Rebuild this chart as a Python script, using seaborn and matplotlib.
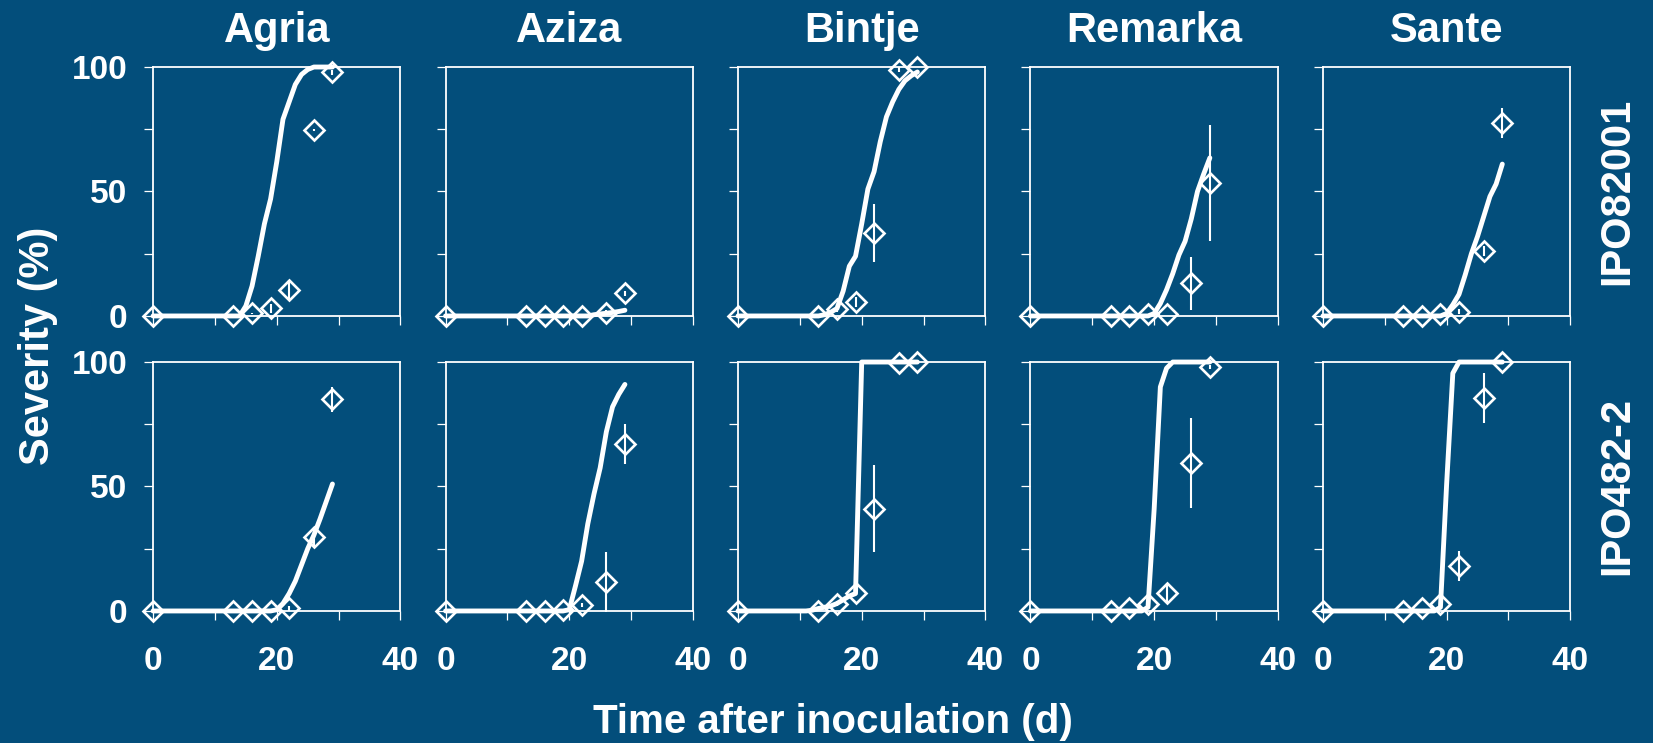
import matplotlib
matplotlib.use("Agg")
import matplotlib.pyplot as plt
import pandas as pd
import seaborn as sns


BG = "#034e7b"
FG = "white"

CULTIVARS = ["Agria", "Aziza", "Bintje", "Remarka", "Sante"]
ISOLATES = ["IPO82001", "IPO482-2"]

# observation days and daily time axis for the fitted curves
DAYS_OBS = [0, 13, 16, 19, 22, 26, 29]
DAYS_FIT = list(range(30))

# observed severity (%) and error, isolate IPO82001
OBS_82001 = {
    "Agria": [0, 0, 1, 3, 10.3, 74.7, 97.9],
    "Aziza": [0, 0, 0, 0, 0, 1.3, 9.1],
    "Bintje": [0, 0, 2.7, 5.7, 33.4, 99, 100],
    "Remarka": [0, 0, 0, 0.7, 0.7, 13.1, 53.5],
    "Sante": [0, 0, 0, 0.7, 1.7, 26, 77.5],
}
ERR_82001 = {
    "Agria": [0, 0, 0.3, 2, 4, 0.5, 1],
    "Aziza": [0, 0, 0, 0, 0, 1, 1],
    "Bintje": [0, 0, 1, 2, 11.7, 1, 0],
    "Remarka": [0, 0, 0, 0, 0, 10.7, 23.4],
    "Sante": [0, 0, 0, 0, 1, 2, 6],
}

# observed severity (%) and error, isolate IPO482-2
OBS_482 = {
    "Agria": [0, 0, 0, 0, 1, 29.6, 85],
    "Aziza": [0, 0, 0, 0.3, 2.4, 11.7, 67],
    "Bintje": [0, 0, 3, 7.4, 41, 99.5, 100],
    "Remarka": [0, 0, 1, 3, 7.4, 59.5, 98],
    "Sante": [0, 0, 1, 3, 18, 85.6, 100],
}
ERR_482 = {
    "Agria": [0, 0, 0, 0, 1, 4, 5],
    "Aziza": [0, 0, 0, 0, 1, 12, 8],
    "Bintje": [0, 0, 1, 1, 17.5, 0, 0],
    "Remarka": [0, 0, 0, 1, 4, 18, 1],
    "Sante": [0, 0, 0, 1, 6, 10, 0],
}

# fitted severity (%), one value per day 0..29
FIT_82001 = {
    "Agria": [0] * 15 + [4, 12, 24, 37, 47, 62, 79, 86, 93, 97, 99, 100, 100, 100, 100],
    "Aziza": [0] * 24 + [0.5, 0.8, 1.1, 1.4, 1.8, 2.3],
    "Bintje": [0] * 14 + [0.5, 1.5, 3, 10, 20, 24, 37, 51, 58, 70, 80, 86, 91, 94.5, 96.5, 98],
    "Remarka": [0] * 20 + [1, 5, 10.5, 17, 24.5, 30, 39, 50, 57, 63.5],
    "Sante": [0] * 20 + [1, 4.5, 8.7, 16.5, 25, 32, 40, 48, 53, 61],
}
FIT_482 = {
    "Agria": [0] * 20 + [0.5, 3, 7, 12, 18.5, 25, 30.5, 37, 44, 51],
    "Aziza": [0] * 20 + [0.5, 10, 20, 35, 47, 57.5, 72, 82, 87, 91],
    "Bintje": [0] * 12 + [0.3, 1, 1.5, 2, 3, 4.5, 6, 7] + [100] * 10,
    "Remarka": [0] * 19 + [1.5, 41, 90, 97.5] + [100] * 7,
    "Sante": [0] * 19 + [1.5, 51, 95.5] + [100] * 8,
}

ROWS = [(OBS_82001, ERR_82001, FIT_82001), (OBS_482, ERR_482, FIT_482)]


def style_axis(ax):
    ax.set_facecolor(BG)
    for side in ["left", "right", "top", "bottom"]:
        ax.spines[side].set_visible(True)
        ax.spines[side].set_color(FG)
        ax.spines[side].set_linewidth(1.3)
    ax.set_xlim(0, 40)
    ax.set_ylim(0, 100)
    ax.set_xticks([0, 10, 20, 30, 40])
    ax.set_yticks([0, 25, 50, 75, 100])
    ax.tick_params(axis="both", colors=FG, length=6.5, width=0.9, direction="out",
                   labelsize=24, labelcolor=FG)
    ax.tick_params(axis="x", pad=19)
    ax.tick_params(axis="y", pad=12)
    ax.set_xlabel("")
    ax.set_ylabel("")


def build_chart():
    sns.set_theme(style="ticks")
    plt.rcParams["font.family"] = ["Liberation Sans", "DejaVu Sans"]
    plt.rcParams["font.weight"] = "bold"

    fig, axes = plt.subplots(2, 5, figsize=(16.53, 7.43), dpi=100, sharex=True, sharey=True)
    fig.patch.set_facecolor(BG)
    fig.subplots_adjust(left=0.0926, right=0.950, top=0.9098, bottom=0.1777,
                        wspace=0.182, hspace=0.185)

    for r, (obs, err, fit) in enumerate(ROWS):
        for c, cultivar in enumerate(CULTIVARS):
            ax = axes[r, c]
            style_axis(ax)
            fit_df = pd.DataFrame({"day": DAYS_FIT, "severity": fit[cultivar]})
            sns.lineplot(data=fit_df, x="day", y="severity", ax=ax, color=FG,
                         linewidth=3.5, legend=False, clip_on=False, zorder=3)
            ax.errorbar(DAYS_OBS, obs[cultivar], yerr=err[cultivar], fmt="D",
                        markersize=10.5, markerfacecolor="none", markeredgecolor=FG,
                        markeredgewidth=1.9, ecolor=FG, elinewidth=1.5, capsize=0,
                        clip_on=False, zorder=4)
            style_axis(ax)
            if r == 0:
                ax.set_title(cultivar, color=FG, fontsize=30, fontweight="bold", pad=18)
            ax.set_xticklabels(["0", "", "20", "", "40"])
            ax.set_yticklabels(["0", "", "50", "", "100"])

        pos = axes[r, 4].get_position()
        fig.text(0.9785, (pos.y0 + pos.y1) / 2, ISOLATES[r], rotation=90,
                 ha="center", va="center", color=FG, fontsize=30, fontweight="bold")

    fig.text(0.023, 0.535, "Severity (%)", rotation=90, ha="center", va="center",
             color=FG, fontsize=30, fontweight="bold")
    fig.text(0.504, 0.0135, "Time after inoculation (d)", ha="center", va="baseline",
             color=FG, fontsize=29, fontweight="bold")

    fig.savefig("out.png", dpi=100, facecolor=BG)
    plt.close(fig)


if __name__ == "__main__":
    build_chart()
